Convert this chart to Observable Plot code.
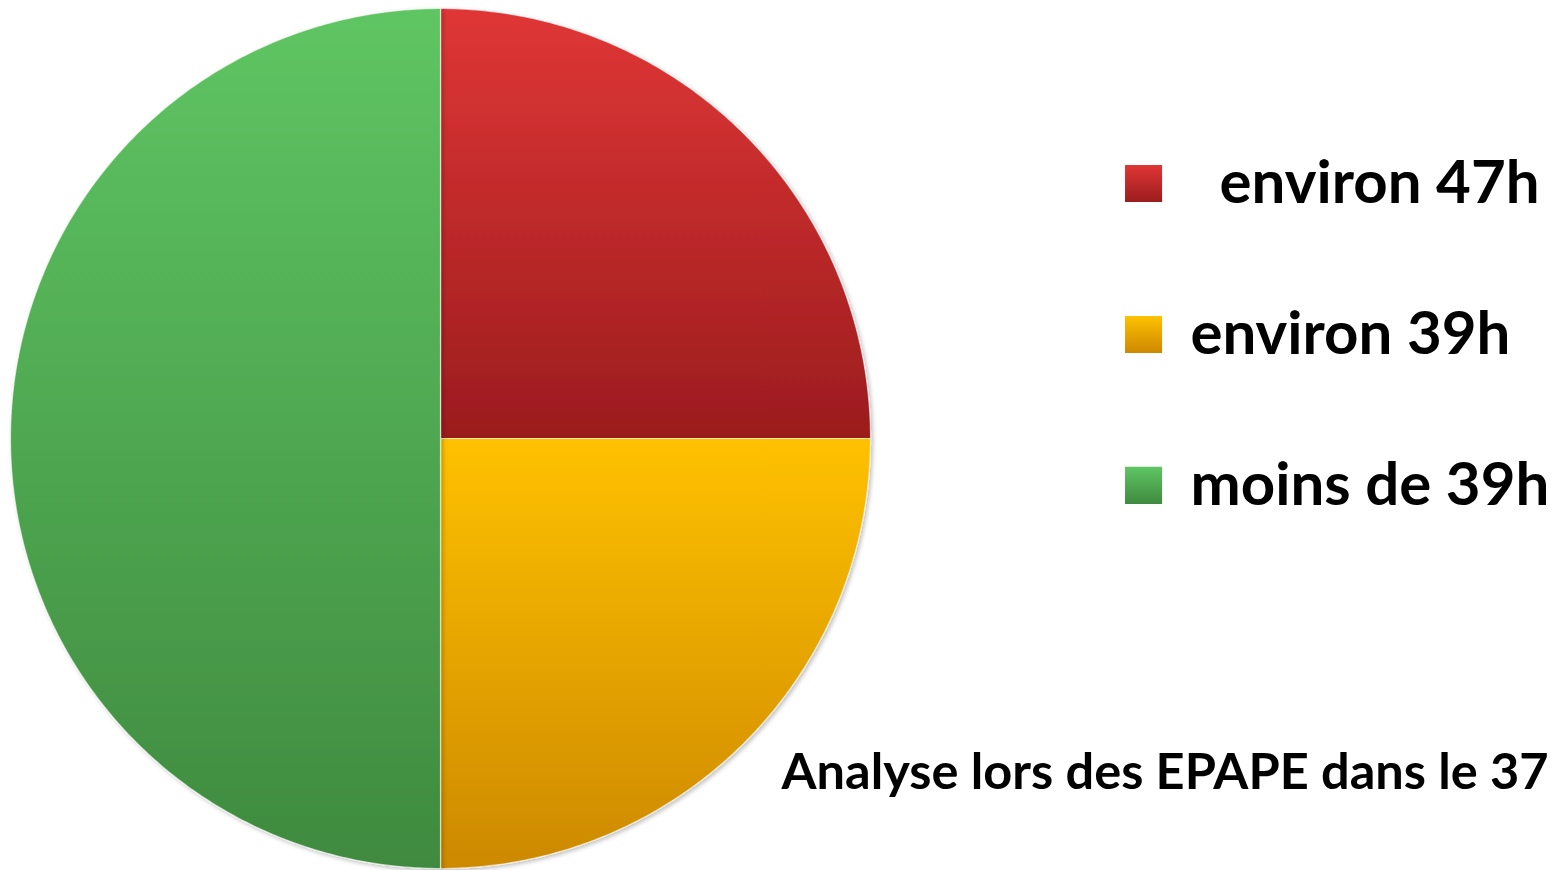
<!DOCTYPE html>
<html>
<head>
<meta charset="utf-8">
<script src="https://cdn.jsdelivr.net/npm/d3@7"></script>
<script src="https://cdn.jsdelivr.net/npm/@observablehq/plot@0.6"></script>
<style>
  html, body { margin: 0; padding: 0; background: #ffffff; }
  #chart svg { display: block; }
</style>
</head>
<body>
<div id="chart"></div>
<script>
// ---- data ----
const categories = ["environ 47h", "environ 39h", "moins de 39h"];
const values = [25, 25, 50];
const legendLabels = ["\u00a0\u00a0environ 47h", "environ 39h", "moins de 39h"];
const colorsTop = ["#e03636", "#ffc100", "#5fc563"];
const colorsBottom = ["#9b1c1e", "#cd8900", "#3f8a3f"];
const caption = "Analyse lors des EPAPE dans le 37";

// ---- geometry from d3.pie ----
const arcs = d3.pie().sort(null).value(d => d)(values);
const slices = arcs.map((a, i) => {
  const pts = [{i, x: 0, y: 0}];
  const n = Math.max(2, Math.ceil((a.endAngle - a.startAngle) / 0.01));
  for (let k = 0; k <= n; k++) {
    const t = a.startAngle + (a.endAngle - a.startAngle) * k / n;
    pts.push({i, x: Math.sin(t), y: Math.cos(t)});
  }
  pts.push({i, x: 0, y: 0});
  return pts;
});

const legend = categories.map((c, i) => ({i, label: legendLabels[i], x: 1.635, tx: 1.744, y: 0.593 - i * 0.351}));

const defs = () => {
  const g = d3.create("svg:defs");
  categories.forEach((c, i) => {
    const lg = g.append("linearGradient").attr("id", "grad" + i)
      .attr("x1", 0).attr("y1", 0).attr("x2", 0).attr("y2", 1);
    lg.append("stop").attr("offset", "0%").attr("stop-color", colorsTop[i]);
    lg.append("stop").attr("offset", "100%").attr("stop-color", colorsBottom[i]);
  });
  const f = g.append("filter").attr("id", "shadow").attr("x", "-5%").attr("y", "-5%").attr("width", "110%").attr("height", "110%");
  f.append("feDropShadow").attr("dx", 2).attr("dy", 2).attr("stdDeviation", 2).attr("flood-color", "#000").attr("flood-opacity", 0.25);
  return g.node();
};

const chart = Plot.plot({
  width: 1559,
  height: 870,
  margin: 0,
  x: {domain: [-1, 1], range: [10, 870], axis: null},
  y: {domain: [-1, 1], range: [868, 8], axis: null},
  style: {fontFamily: "Lato, 'Open Sans', sans-serif", background: "#ffffff", color: "#000"},
  marks: [
    defs,
    ...slices.map((pts, i) => Plot.line(pts, {
      x: "x", y: "y",
      fill: `url(#grad${i})`,
      stroke: "#ffffff", strokeOpacity: 0.6, strokeWidth: 1.2,
      curve: "linear"
    })),
    Plot.dot(legend, {
      x: "x", y: "y", symbol: "square", r: 20.9,
      fill: d => `url(#grad${d.i})`, stroke: "none"
    }),
    Plot.text(legend, {
      x: "tx", y: "y", text: "label", textAnchor: "start",
      fontSize: 60, fontWeight: "bold", fill: "#000"
    }),
    Plot.text([caption], {
      x: 2.577, y: -0.777, text: d => d, textAnchor: "end",
      fontSize: 50.5, fontWeight: "bold", fill: "#000"
    })
  ]
});

d3.select(chart).selectAll('g[aria-label="line"]').attr("filter", "url(#shadow)");
document.getElementById("chart").appendChild(chart);
</script>
</body>
</html>
